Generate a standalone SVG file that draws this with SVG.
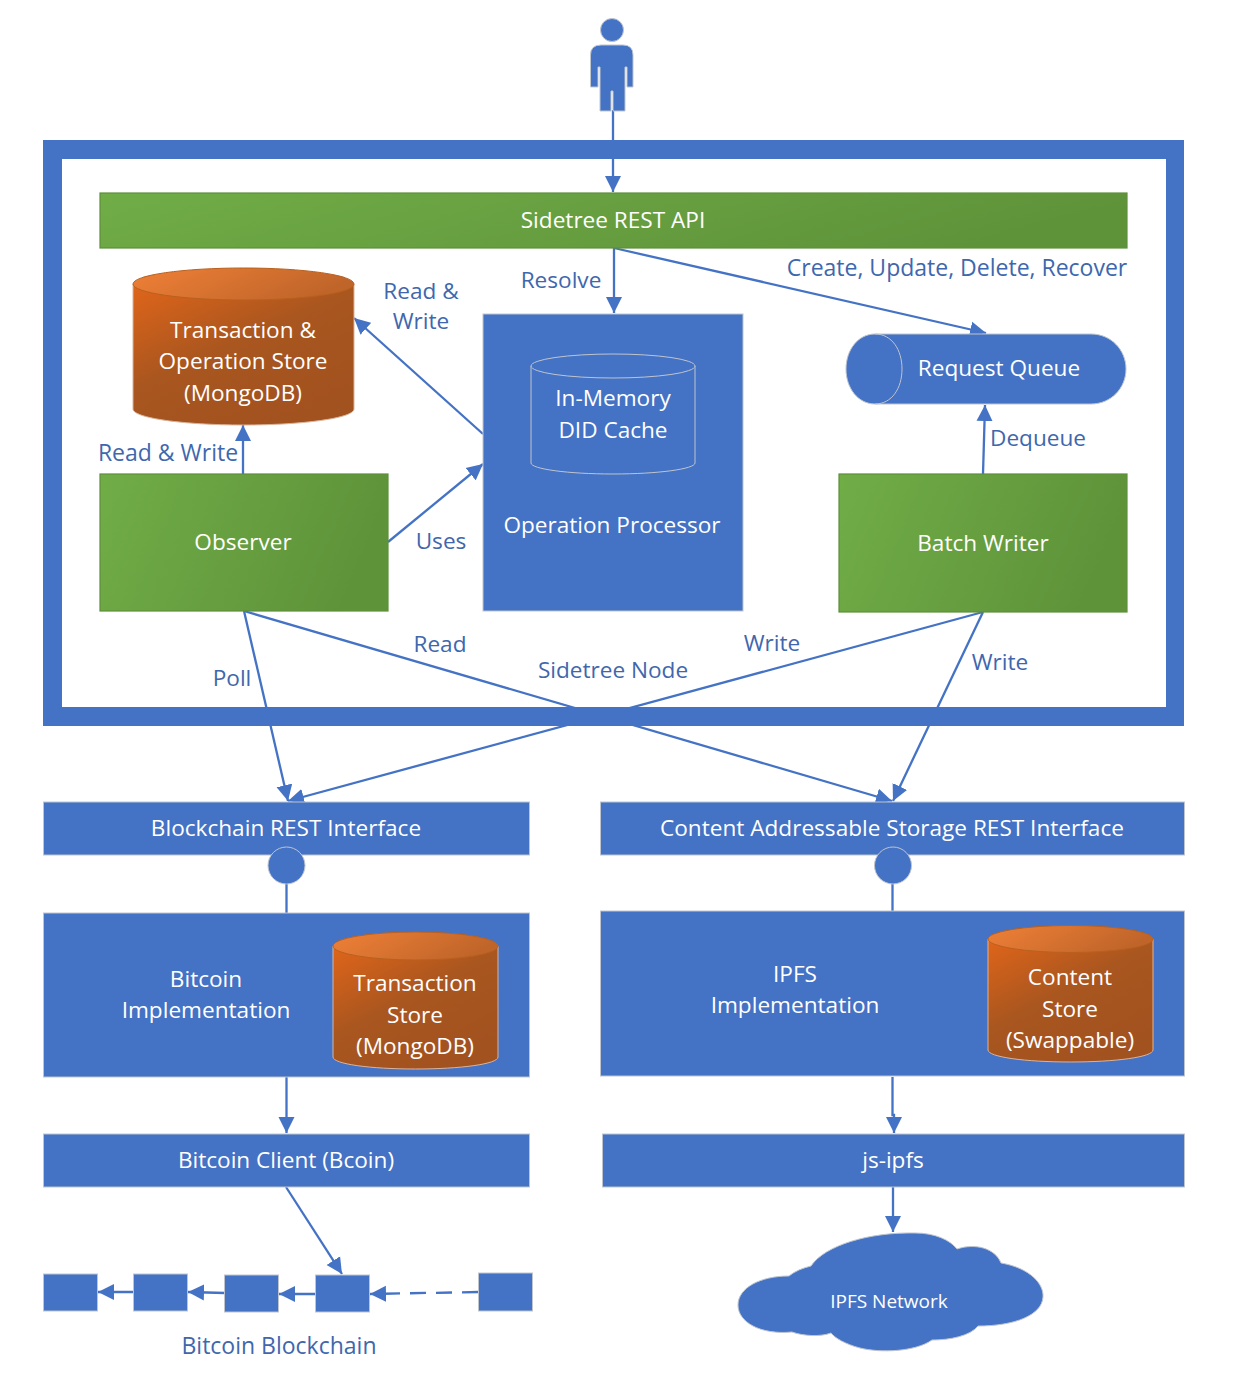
<svg xmlns="http://www.w3.org/2000/svg" width="1234" height="1375" viewBox="0 0 1234 1375">
<defs>
<style>
text{font-family:"Open Sans","Noto Sans","Liberation Sans",sans-serif;font-size:22.6px;text-anchor:middle}
.w{fill:#fff}.b{fill:#4067ad}
.box{fill:#4472c4;stroke:#bfc5cf;stroke-width:1}
.green{fill:url(#g);stroke:#5e8f3a;stroke-width:1.2}
.or{fill:url(#o);stroke:#d9b49c;stroke-width:1}
.lid{fill:url(#o2);stroke:#b9601f;stroke-width:1}
.c{fill:none;stroke:#4472c4;stroke-width:2.300}
</style>
<linearGradient id="g" x1="0" y1="0" x2="1" y2="0.2"><stop offset="0" stop-color="#70ad47"/><stop offset="1" stop-color="#5f933a"/></linearGradient>
<linearGradient id="o" x1="0" y1="0" x2="0.7" y2="1"><stop offset="0" stop-color="#e0651a"/><stop offset="0.5" stop-color="#a9561f"/><stop offset="1" stop-color="#a2521f"/></linearGradient>
<linearGradient id="o2" x1="0" y1="0" x2="1" y2="0.3"><stop offset="0" stop-color="#ef8037"/><stop offset="1" stop-color="#c0652a"/></linearGradient>
<marker id="a" markerUnits="userSpaceOnUse" markerWidth="17" markerHeight="17" refX="16" refY="8.500" orient="auto"><path d="M0 0.5L16 8.500L0 16.500Z" fill="#4472c4"/></marker>
</defs>

<g id="connectors">
<path class="c" d="M613 110V192" marker-end="url(#a)"/>
<path class="c" d="M614 248V313" marker-end="url(#a)"/>
<path class="c" d="M614 248L986 333" marker-end="url(#a)"/>
<path class="c" d="M243 474V425" marker-end="url(#a)"/>
<path class="c" d="M483 434L354 318" marker-end="url(#a)"/>
<path class="c" d="M388 542L483 464" marker-end="url(#a)"/>
<path class="c" d="M983 474L985 405" marker-end="url(#a)"/>
<path class="c" d="M244 611L288 801" marker-end="url(#a)"/>
<path class="c" d="M244 611L892 801" marker-end="url(#a)"/>
<path class="c" d="M983 612L288 801" marker-end="url(#a)"/>
<path class="c" d="M983 612L893 801" marker-end="url(#a)"/>
<path class="c" d="M286.500 855V913"/>
<path class="c" d="M892.500 855V911"/>
<path class="c" d="M286.500 1077V1133" marker-end="url(#a)"/>
<path class="c" d="M892.500 1077V1115H894V1133" marker-end="url(#a)"/>
<path class="c" d="M286 1187L342 1274" marker-end="url(#a)"/>
<path class="c" d="M893 1187V1232" marker-end="url(#a)"/>
<path class="c" d="M134 1292H98" marker-end="url(#a)"/>
<path class="c" d="M225 1293L188 1292" marker-end="url(#a)"/>
<path class="c" d="M316 1294H279" marker-end="url(#a)"/>
<path class="c" stroke-dasharray="16 10" d="M478 1292L370 1294" marker-end="url(#a)"/>
</g>

<g id="user"><circle cx="612" cy="30" r="11.500" class="box" stroke-width=".7"/><path class="box" d="M601 45H623Q633 45 633 55V87H627V67H625V111H613V91H611V111H600V67H598V87H590.500V55Q590.500 45 601 45Z"/></g>

<g id="sidetree-node"><path fill="#4472c4" fill-rule="evenodd" d="M43 140H1184V726H43ZM62 159V707H1166V159Z"/><text class="b" x="613" y="678">Sidetree Node</text></g>

<g id="rest-api"><rect class="green" x="100" y="193" width="1027" height="55"/><text class="w" x="613" y="228">Sidetree REST API</text></g>

<g id="tx-store"><path class="or" d="M133 284V409C133 418 183 425 243.500 425S354 418 354 409V284Z"/><ellipse class="lid" cx="243.500" cy="284" rx="110.500" ry="16"/><text class="w" x="243" y="338">Transaction &amp;</text><text class="w" x="243" y="369">Operation Store</text><text class="w" x="243" y="401">(MongoDB)</text></g>

<g id="operation-processor"><rect class="box" x="483" y="314" width="260" height="297"/><path class="box" d="M531 366V463C531 469 568 474 613 474S695 469 695 463V366"/><ellipse class="box" cx="613" cy="366" rx="82" ry="12"/><text class="w" x="613" y="406">In-Memory</text><text class="w" x="613" y="438">DID Cache</text><text class="w" x="612" y="533">Operation Processor</text></g>

<g id="request-queue"><path class="box" d="M875 334H1091C1111 334 1126 350 1126 369S1111 404 1091 404H875C858 404 846 388 846 369S858 334 875 334Z"/><path fill="none" stroke="#bfc5cf" d="M875 334C892 334 902 350 902 369S892 404 875 404"/><text class="w" x="999" y="376">Request Queue</text></g>

<g id="observer"><rect class="green" x="100" y="474" width="288" height="137"/><text class="w" x="243" y="550">Observer</text></g>
<g id="batch-writer"><rect class="green" x="839" y="474" width="288" height="138"/><text class="w" x="983" y="551">Batch Writer</text></g>

<g id="blockchain-rest"><rect class="box" x="43.500" y="802" width="486" height="53"/><text class="w" x="286" y="836">Blockchain REST Interface</text><circle class="box" cx="286.500" cy="865.500" r="18.500"/></g>
<g id="cas-rest"><rect class="box" x="600.500" y="802" width="584" height="53"/><text class="w" x="892" y="836">Content Addressable Storage REST Interface</text><circle class="box" cx="893" cy="865.500" r="18.500"/></g>

<g id="bitcoin-impl"><rect class="box" x="43.500" y="913" width="486" height="164"/><text class="w" x="206" y="987">Bitcoin</text><text class="w" x="206" y="1018">Implementation</text><path class="or" d="M333 946V1057C333 1064 370 1069 415.500 1069S498 1064 498 1057V946Z"/><ellipse class="lid" cx="415.500" cy="946" rx="82.500" ry="14"/><text class="w" x="415" y="991">Transaction</text><text class="w" x="415" y="1023">Store</text><text class="w" x="415" y="1054">(MongoDB)</text></g>

<g id="ipfs-impl"><rect class="box" x="600.500" y="911" width="584" height="165"/><text class="w" x="795" y="982">IPFS</text><text class="w" x="795" y="1013">Implementation</text><path class="or" d="M988 939V1050C988 1057 1025 1062 1070.500 1062S1153 1057 1153 1050V939Z"/><ellipse class="lid" cx="1070.500" cy="939" rx="82.500" ry="13.500"/><text class="w" x="1070" y="985">Content</text><text class="w" x="1070" y="1017">Store</text><text class="w" x="1070" y="1048">(Swappable)</text></g>

<g id="bitcoin-client"><rect class="box" x="43.500" y="1134" width="486" height="53"/><text class="w" x="286" y="1168">Bitcoin Client (Bcoin)</text></g>
<g id="js-ipfs"><rect class="box" x="602.500" y="1134" width="582" height="53"/><text class="w" x="893" y="1168">js-ipfs</text></g>

<g id="block-1"><rect class="box" x="43.500" y="1274" width="54" height="37"/></g>
<g id="block-2"><rect class="box" x="133.500" y="1274" width="54" height="37"/></g>
<g id="block-3"><rect class="box" x="224.500" y="1275" width="54" height="37"/></g>
<g id="block-4"><rect class="box" x="315.500" y="1275" width="54" height="37"/></g>
<g id="block-5"><rect class="box" x="478.500" y="1273" width="54" height="38"/></g>

<g id="ipfs-network"><path fill="#4472c4" stroke="#bfc5cf" stroke-width="1" d="M811 1266C825 1245 870 1232 915 1233C935 1233 950 1240 957 1249C975 1243 995 1248 1001 1263C1030 1268 1044 1284 1043 1297C1042 1315 1015 1326 978 1326C970 1336 950 1340 932 1340C915 1352 880 1353 860 1348C845 1344 835 1338 831 1333C820 1337 803 1336 792 1332C760 1335 738 1322 738 1305C738 1288 760 1276 789 1276C795 1271 803 1268 811 1266Z"/><text class="w" x="889" y="1308" style="font-size:19px">IPFS Network</text></g>

<g id="labels">
<text class="b" x="957" y="276" style="font-size:23px">Create, Update, Delete, Recover</text>
<text class="b" x="561" y="288">Resolve</text>
<text class="b" x="421" y="299">Read &amp;</text>
<text class="b" x="421" y="329">Write</text>
<text class="b" x="168" y="461" style="font-size:23px">Read &amp; Write</text>
<text class="b" x="441" y="549">Uses</text>
<text class="b" x="1038" y="446">Dequeue</text>
<text class="b" x="232" y="686">Poll</text>
<text class="b" x="440" y="652">Read</text>
<text class="b" x="772" y="651">Write</text>
<text class="b" x="1000" y="670">Write</text>
<text class="b" x="279" y="1354" style="font-size:23px">Bitcoin Blockchain</text>
</g>
</svg>
